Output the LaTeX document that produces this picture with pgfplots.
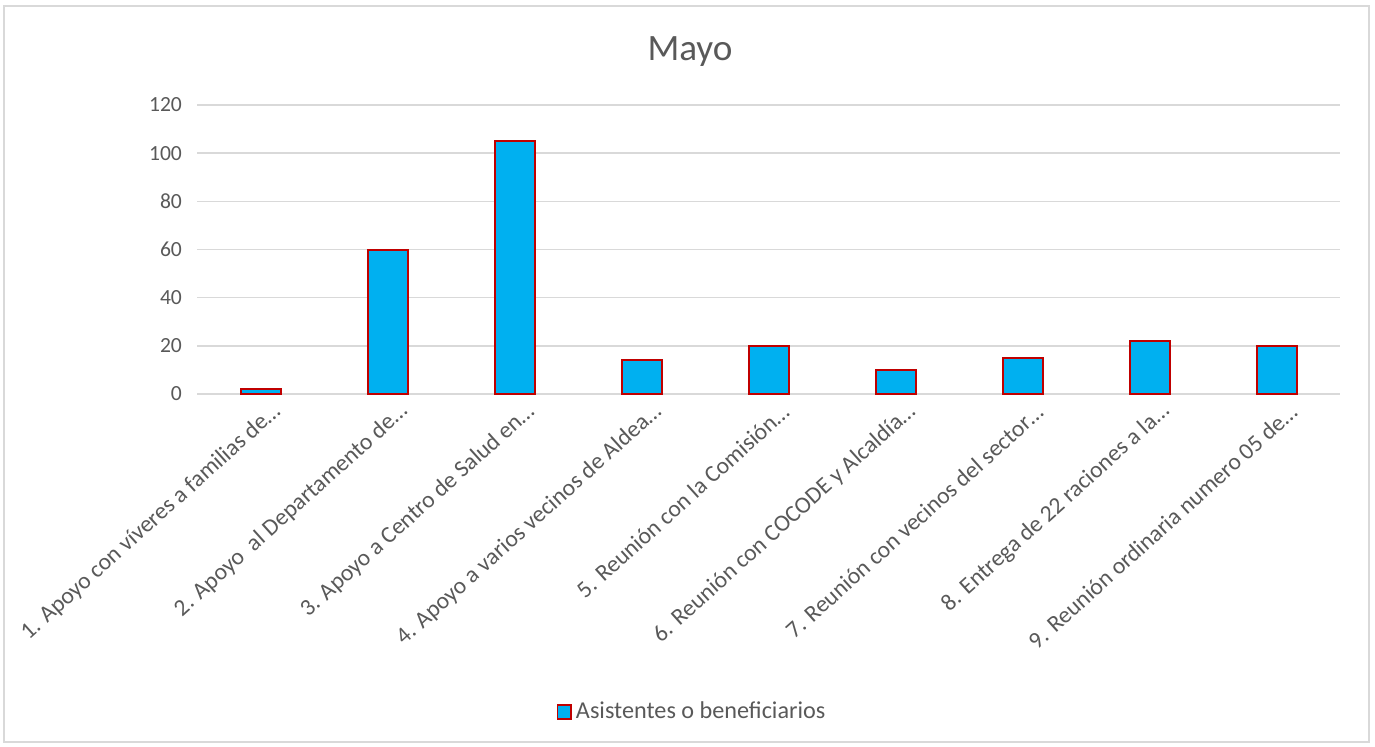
\documentclass[border=0pt]{standalone}
\usepackage{pgfplots}
\pgfplotsset{compat=1.18}
\usepackage{fontspec}
\setmainfont{Carlito}
\definecolor{txt}{HTML}{595959}
\definecolor{gridc}{HTML}{D9D9D9}
\definecolor{barc}{HTML}{00B0F0}
\definecolor{edgec}{HTML}{C00000}
\begin{document}
\begin{tikzpicture}
\path (0pt,0pt) rectangle (687.5pt,373pt);
\draw[gridc, line width=0.75pt] (2pt,2pt) rectangle (684.5pt,370pt);
\node[text=txt, font=\fontsize{18.6}{22}\selectfont] at (345pt,347pt) {Mayo};
\begin{axis}[
  at={(98.5pt,176pt)}, anchor=south west,
  scale only axis, width=571.5pt, height=144.5pt,
  xmin=0.5, xmax=9.5, ymin=0, ymax=120,
  ytick={0,20,...,120},
  xtick={1,...,9},
  xticklabels={
    {1. Apoyo con víveres a familias de…},
    {2. Apoyo\ \ al Departamento de…},
    {3. Apoyo a Centro de Salud en…},
    {4. Apoyo a varios vecinos de Aldea…},
    {5. Reunión con la Comisión…},
    {6. Reunión con COCODE y Alcaldía…},
    {7. Reunión con vecinos del sector…},
    {8. Entrega de 22 raciones a la…},
    {9. Reunión ordinaria numero 05 de…}},
  ybar, bar width=20pt,
  ymajorgrids, grid style={gridc, line width=0.75pt},
  axis line style={draw=none},
  major tick length=0pt,
  tick label style={text=txt, font=\fontsize{10.8}{13}\selectfont},
  /pgf/number format/assume math mode=true,
  yticklabel style={xshift=-4pt},
  xticklabel style={rotate=42, anchor=east, xshift=5pt, yshift=-11pt,
    font=\fontsize{11.8}{14}\selectfont},
  legend style={at={(0.434,-1.10)}, anchor=center, draw=none, fill=none,
    font=\fontsize{12.1}{14}\selectfont, text=txt},
  legend image code/.code={\draw[draw=edgec, fill=barc, line width=0.8pt] (0pt,-3.4pt) rectangle (6.8pt,3.4pt);},
]
\addplot[draw=edgec, fill=barc, line width=1pt] coordinates {
  (1,2) (2,60) (3,105) (4,14) (5,20) (6,10) (7,15) (8,22) (9,20)};
\addlegendentry{Asistentes o beneficiarios}
\end{axis}
\end{tikzpicture}
\end{document}
